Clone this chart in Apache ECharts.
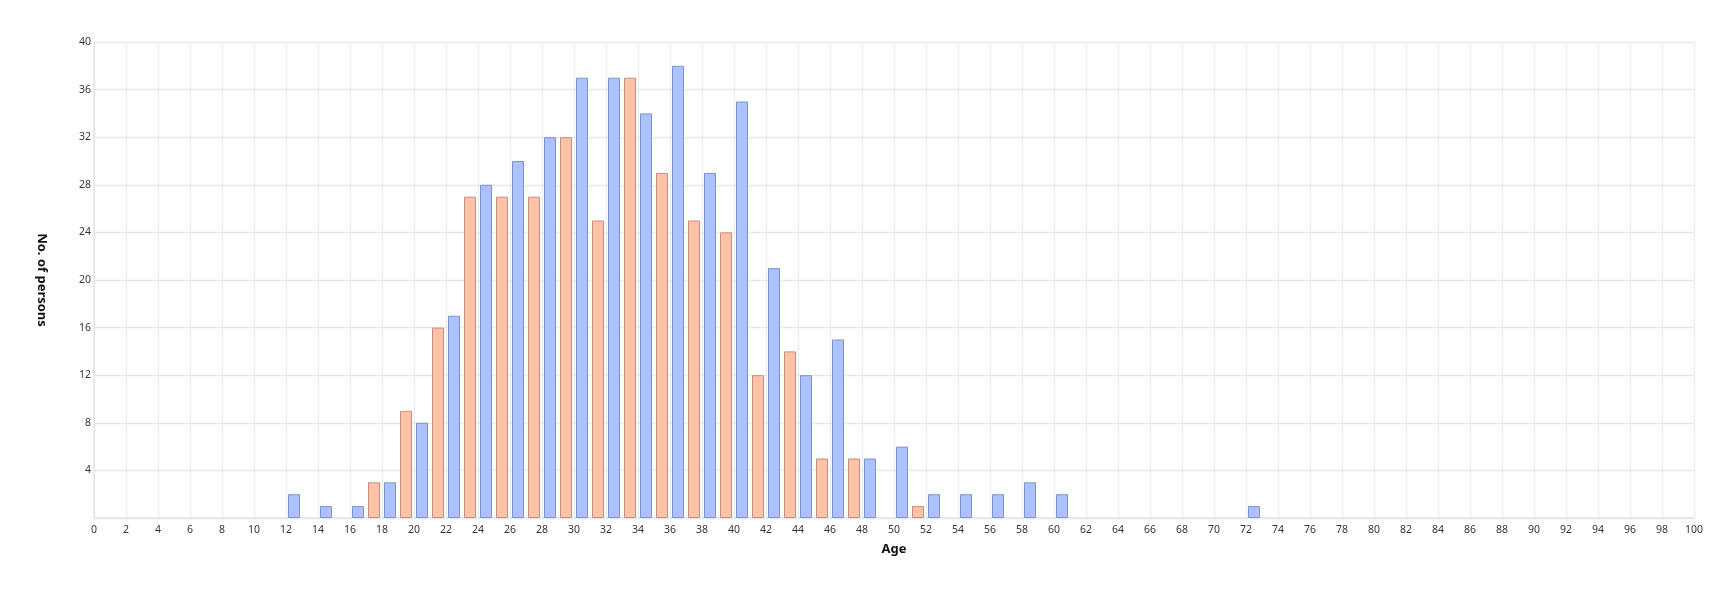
<!DOCTYPE html>
<html lang="en">
<head>
    <meta charset="UTF-8">
    <title>Age distribution</title>
    <script src="https://cdn.jsdelivr.net/npm/echarts@6/dist/echarts.min.js"></script>
    <style>
        html, body { margin: 0; padding: 0; background: #fff; }
    </style>
</head>
<body>
    <div id="main" style="width:1734px; height:594px;"></div>
    <script>
        var blueAges = [12.5, 14.5, 16.5, 18.5, 20.5, 22.5, 24.5, 26.5, 28.5, 30.5, 32.5, 34.5, 36.5, 38.5, 40.5, 42.5, 44.5, 46.5, 48.5, 50.5, 52.5, 54.5, 56.5, 58.5, 60.5, 72.5];
        var blueCounts = [2, 1, 1, 3, 8, 17, 28, 30, 32, 37, 37, 34, 38, 29, 35, 21, 12, 15, 5, 6, 2, 2, 2, 3, 2, 1];
        var orangeAges = [17.5, 19.5, 21.5, 23.5, 25.5, 27.5, 29.5, 31.5, 33.5, 35.5, 37.5, 39.5, 41.5, 43.5, 45.5, 47.5, 51.5];
        var orangeCounts = [3, 9, 16, 27, 27, 27, 32, 25, 37, 29, 25, 24, 12, 14, 5, 5, 1];

        function pairs(xs, ys) {
            var out = [];
            for (var i = 0; i < xs.length; i++) {
                out.push([xs[i], ys[i]]);
            }
            return out;
        }

        var myChart = echarts.init(document.getElementById('main'));
        var font = 'Noto Sans';

        var option = {
            animation: false,
            grid: { left: 94, right: 40, top: 42, bottom: 76 },
            xAxis: {
                type: 'value',
                min: 0,
                max: 100,
                interval: 2,
                name: 'Age',
                nameLocation: 'middle',
                nameGap: 25,
                nameTextStyle: { fontFamily: font, fontWeight: 'bold', fontSize: 13, color: '#111' },
                axisLine: { show: true, lineStyle: { color: '#e4e4e4', width: 1.5 } },
                axisTick: { show: false },
                axisLabel: { fontFamily: font, fontSize: 10.5, color: '#333', margin: 7 },
                splitLine: { show: true, lineStyle: { color: '#ececec', width: 1.3 } }
            },
            yAxis: {
                type: 'value',
                min: 0,
                max: 40,
                interval: 4,
                name: 'No. of persons',
                nameLocation: 'middle',
                nameRotate: -90,
                nameGap: 46,
                nameTextStyle: { fontFamily: font, fontWeight: 'bold', fontSize: 13, color: '#111' },
                axisLine: { show: true, lineStyle: { color: '#e4e4e4', width: 1.5 } },
                axisTick: { show: false },
                axisLabel: {
                    fontFamily: font, fontSize: 10.5, color: '#333', margin: 3,
                    padding: [8, 0, 0, 0],
                    showMinLabel: false
                },
                splitLine: { show: true, lineStyle: { color: '#e8e8e8', width: 1.3 } }
            },
            series: [
                {
                    type: 'bar',
                    data: pairs(blueAges, blueCounts),
                    barWidth: 12,
                    barGap: '-100%',
                    itemStyle: { color: '#abc2fd', borderColor: '#7a92cf', borderWidth: 1 }
                },
                {
                    type: 'bar',
                    data: pairs(orangeAges, orangeCounts),
                    barWidth: 12,
                    barGap: '-100%',
                    itemStyle: { color: '#ffc2a8', borderColor: '#c58e7b', borderWidth: 1 }
                }
            ]
        };
        myChart.setOption(option);
    </script>
</body>
</html>
